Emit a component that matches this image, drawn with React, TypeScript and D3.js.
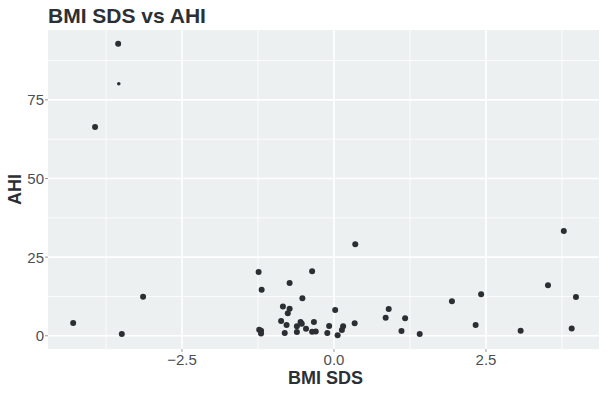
import React from "react";
import * as d3 from "d3";

const bmiSds = [
  -3.55, -3.54, -3.93, -4.29, -3.49, -3.14,
  0.35, -1.24, -0.36, -0.73, -1.19, -0.52, -0.84, -0.73, -0.76, 0.02, 0.9, 0.85, 1.17,
  -0.87, -0.78, -0.61, -0.55, -0.53, -0.46, -0.33, -0.36, -0.3, -0.61, -0.81,
  -1.2, -1.2, -1.23, -0.11, -0.08, 0.06, 0.13, 0.15, 0.34, 1.11, 1.41,
  3.78, 3.52, 3.98, 2.42, 1.94, 2.33, 3.07, 3.91,
];
const ahi = [
  92.8, 80.1, 66.4, 4.1, 0.6, 12.4,
  29.1, 20.3, 20.5, 16.8, 14.6, 11.9, 9.3, 8.6, 7.2, 8.2, 8.5, 5.7, 5.6,
  4.7, 3.4, 3.0, 4.4, 3.8, 2.2, 4.4, 1.3, 1.4, 1.2, 0.9,
  1.6, 0.7, 1.9, 0.9, 3.1, 0.2, 1.8, 3.0, 4.0, 1.5, 0.6,
  33.3, 16.1, 12.3, 13.2, 11.0, 3.4, 1.6, 2.3,
];
const pointSize = [
  3, 1.8, 3, 3, 3, 3,
  3, 3, 3, 3, 3, 3, 3, 3, 3, 3, 3, 3, 3,
  3, 3, 3, 3, 3, 3, 3, 3, 3, 3, 3,
  3, 3, 3, 3, 3, 3, 3, 3, 3, 3, 3,
  3, 3, 3, 3, 3, 3, 3, 3,
];
const xTicks = [-2.5, 0, 2.5];
const xMinor = [-3.75, -1.25, 1.25, 3.75];
const yTicks = [0, 25, 50, 75];
const yMinor = [12.5, 37.5, 62.5, 87.5];

const W = 607;
const H = 394;
const left = 48;
const right = 599;
const top = 30;
const bottom = 349;

export default function App() {
  const x = d3.scaleLinear().domain([-4.704, 4.359]).range([left, right]);
  const y = d3.scaleLinear().domain([-4.2, 97.2]).range([bottom, top]);
  const font = "'Liberation Sans', Arial, Helvetica, sans-serif";
  const data = bmiSds.map((v, i) => ({ x: v, y: ahi[i], r: pointSize[i] }));
  return (
    <svg
      width={W}
      height={H}
      style={{ position: "absolute", left: 0, top: 0, background: "#fff" }}
      fontFamily={font}
    >
      <rect x={left} y={top} width={right - left} height={bottom - top} fill="#edf0f1" />
      {xMinor.map((t) => (
        <line key={"xm" + t} x1={x(t)} x2={x(t)} y1={top} y2={bottom} stroke="#fff" strokeWidth={0.8} />
      ))}
      {yMinor.map((t) => (
        <line key={"ym" + t} x1={left} x2={right} y1={y(t)} y2={y(t)} stroke="#fff" strokeWidth={0.8} />
      ))}
      {xTicks.map((t) => (
        <line key={"xg" + t} x1={x(t)} x2={x(t)} y1={top} y2={bottom} stroke="#fff" strokeWidth={1.6} />
      ))}
      {yTicks.map((t) => (
        <line key={"yg" + t} x1={left} x2={right} y1={y(t)} y2={y(t)} stroke="#fff" strokeWidth={1.6} />
      ))}
      {data.map((d, i) => (
        <circle key={i} cx={x(d.x)} cy={y(d.y)} r={d.r} fill="#2b2f33" />
      ))}
      {xTicks.map((t) => (
        <g key={"xt" + t}>
          <line x1={x(t)} x2={x(t)} y1={bottom} y2={bottom + 3} stroke="#999" strokeWidth={1} />
          <text x={x(t)} y={bottom + 15.5} textAnchor="middle" fontSize={15} fill="#4a4f55">
            {d3.format(".1f")(t)}
          </text>
        </g>
      ))}
      {yTicks.map((t) => (
        <g key={"yt" + t}>
          <line x1={left - 3} x2={left} y1={y(t)} y2={y(t)} stroke="#999" strokeWidth={1} />
          <text x={left - 4} y={y(t) + 5.5} textAnchor="end" fontSize={15} fill="#4a4f55">
            {t}
          </text>
        </g>
      ))}
      <text x={(left + right) / 2 + 2} y={384} textAnchor="middle" fontSize={18} fontWeight="bold" fill="#2c3035">
        BMI SDS
      </text>
      <text
        transform={`translate(21, ${(top + bottom) / 2}) rotate(-90)`}
        textAnchor="middle"
        fontSize={18}
        fontWeight="bold"
        fill="#2c3035"
      >
        AHI
      </text>
      <text x={48} y={23} fontSize={21} fontWeight="bold" fill="#2c3035">
        BMI SDS vs AHI
      </text>
    </svg>
  );
}
